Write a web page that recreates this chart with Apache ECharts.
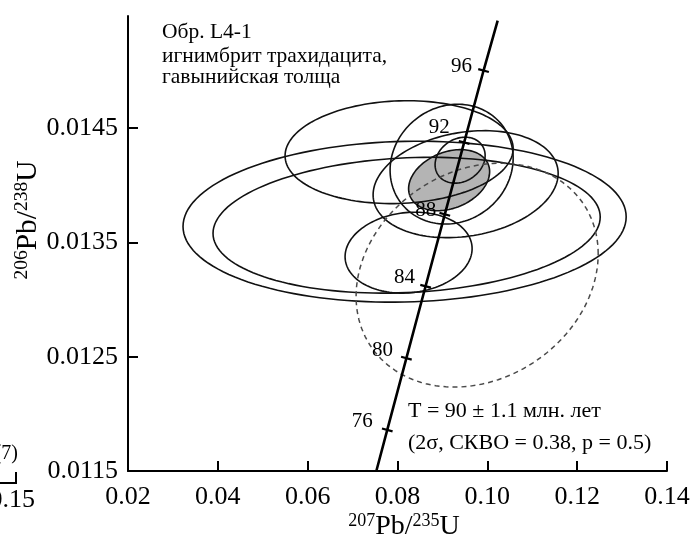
<!DOCTYPE html>
<html>
<head>
<meta charset="utf-8">
<script src="https://cdn.jsdelivr.net/npm/echarts@6/dist/echarts.min.js"></script>
<style>
  html, body { margin: 0; padding: 0; background: #fff; }
  #chart { width: 694px; height: 541px; }
</style>
</head>
<body>
<div id="chart"></div>
<script>
// Axis ticks
const xTicks = [0.02, 0.04, 0.06, 0.08, 0.10, 0.12, 0.14];
const yTicks = [0.0115, 0.0125, 0.0135, 0.0145];

// Concordia: age marks (Ma) and their 207Pb/235U, 206Pb/238U positions
const concordiaAge = [76, 80, 84, 88, 92, 96];
const concordiaX = [0.07772, 0.08198, 0.08625, 0.09053, 0.09484, 0.09916];
const concordiaY = [0.011859, 0.012487, 0.013116, 0.013745, 0.014374, 0.015003];
// Concordia trace from the bottom of the plot to its top end
const traceX = [0.07529, 0.07772, 0.08198, 0.08625, 0.09053, 0.09484, 0.09916, 0.10230];
const traceY = [0.01150, 0.011859, 0.012487, 0.013116, 0.013745, 0.014374, 0.015003, 0.01544];

// Error ellipses: centre, half-widths and error correlation
const ellipseCx  = [0.09149, 0.09394, 0.08036, 0.08158, 0.08203, 0.09205, 0.09517, 0.08247, 0.09773];
const ellipseCy  = [0.014044, 0.014219, 0.014289, 0.013681, 0.013650, 0.014184, 0.014009, 0.013410, 0.013213];
const ellipseRx  = [0.00902, 0.00557, 0.02539, 0.04933, 0.04310, 0.01370, 0.02060, 0.01414, 0.02695];
const ellipseRy  = [0.000267, 0.000201, 0.000450, 0.000704, 0.000594, 0.000524, 0.000468, 0.000354, 0.000979];
const ellipseRho = [0.28, 0.20, 0.07, 0.06, 0.12, 0.10, 0.20, 0.10, 0.19];
// 0 = weighted mean (filled), 1 = analysis, 2 = excluded analysis (dashed)
const ellipseKind = [0, 1, 1, 1, 1, 1, 1, 1, 2];

const serif = "'Liberation Serif', 'DejaVu Serif', 'Times New Roman', serif";

// per-label nudges for the age numbers next to the concordia marks
const ageLabelNudge = [[-25, -8], [-24, -8], [-21, -9], [-19, -4], [-25, -15], [-22, -4]];

function ellipseRender(params, api) {
  const i = params.dataIndex;
  const cx = ellipseCx[i], cy = ellipseCy[i];
  const rx = ellipseRx[i], ry = ellipseRy[i], rho = ellipseRho[i];
  const q = Math.sqrt(1 - rho * rho);
  const pts = [];
  const n = 144;
  for (let k = 0; k <= n; k++) {
    const t = (k / n) * Math.PI * 2;
    pts.push(api.coord([cx + rx * Math.cos(t), cy + ry * (rho * Math.cos(t) + q * Math.sin(t))]));
  }
  const kind = ellipseKind[i];
  let style;
  if (kind === 0) {
    style = { fill: '#b4b4b4', stroke: '#111', lineWidth: 1.6 };
  } else if (kind === 2) {
    style = { fill: null, stroke: '#4a4a4a', lineWidth: 1.5, lineDash: [5, 4] };
  } else {
    style = { fill: null, stroke: '#111', lineWidth: 1.6 };
  }
  return { type: 'polygon', shape: { points: pts }, style: style, z2: kind === 0 ? 0 : 5 };
}

const chart = echarts.init(document.getElementById('chart'), null, { renderer: 'canvas' });

const xTitleRich = {
  s: { fontFamily: serif, fontSize: 18, fill: '#000', verticalAlign: 'top', lineHeight: 30 },
  m: { fontFamily: serif, fontSize: 28, fill: '#000', lineHeight: 30 }
};
const yTitleRich = {
  s: { fontFamily: serif, fontSize: 19.5, fill: '#000', verticalAlign: 'top', lineHeight: 32 },
  m: { fontFamily: serif, fontSize: 29.5, fill: '#000', lineHeight: 32 }
};

const option = {
  animation: false,
  backgroundColor: '#fff',
  grid: { left: 128, right: 27, top: 16, bottom: 70, containLabel: false },
  xAxis: {
    type: 'value',
    min: 0.02, max: 0.14, interval: 0.02,
    axisLine: { lineStyle: { color: '#000', width: 2 } },
    axisTick: { inside: true, length: 10, lineStyle: { color: '#000', width: 2 } },
    axisLabel: {
      color: '#000', fontFamily: serif, fontSize: 26, margin: 13,
      formatter: v => v.toFixed(2)
    },
    splitLine: { show: false }
  },
  yAxis: {
    type: 'value',
    min: 0.0115, max: 0.01548,
    axisLine: { lineStyle: { color: '#000', width: 2 } },
    axisTick: { inside: true, length: 10, customValues: yTicks, lineStyle: { color: '#000', width: 2 } },
    axisLabel: {
      color: '#000', fontFamily: serif, fontSize: 26, margin: 10,
      customValues: yTicks,
      formatter: v => v.toFixed(4)
    },
    splitLine: { show: false }
  },
  series: [
    {
      type: 'custom',
      renderItem: ellipseRender,
      data: ellipseCx.map((x, i) => [x, ellipseCy[i]]),
      silent: true,
      z: 2
    },
    {
      type: 'line',
      data: traceX.map((x, i) => [x, traceY[i]]),
      showSymbol: false,
      lineStyle: { color: '#000', width: 2.6 },
      silent: true,
      z: 4
    },
    {
      type: 'scatter',
      data: concordiaX.map((x, i) => ({
        value: [x, concordiaY[i]],
        label: { offset: ageLabelNudge[i] }
      })),
      symbol: 'rect',
      symbolSize: [11, 2.2],
      symbolRotate: -15,
      itemStyle: { color: '#000', opacity: 1 },
      label: {
        show: true,
        position: 'inside',
        fontFamily: serif,
        fontSize: 21,
        color: '#000',
        opacity: 1,
        formatter: p => String(concordiaAge[p.dataIndex])
      },
      silent: true,
      z: 5
    }
  ],
  graphic: [
    {
      type: 'text', x: 162, y: 32.5,
      style: { text: 'Обр. L4-1', font: '21.5px ' + serif, fill: '#000', verticalAlign: 'middle' }
    },
    {
      type: 'text', x: 162, y: 56,
      style: { text: 'игнимбрит трахидацита,', font: '21.5px ' + serif, fill: '#000', verticalAlign: 'middle' }
    },
    {
      type: 'text', x: 162, y: 77.5,
      style: { text: 'гавынийская толща', font: '21.5px ' + serif, fill: '#000', verticalAlign: 'middle' }
    },
    {
      type: 'text', x: 408, y: 411.5,
      style: { text: 'T = 90 ± 1.1 млн. лет', font: '22px ' + serif, fill: '#000', verticalAlign: 'middle' }
    },
    {
      type: 'text', x: 408, y: 443,
      style: { text: '(2σ, СКВО = 0.38, p = 0.5)', font: '22px ' + serif, fill: '#000', verticalAlign: 'middle' }
    },
    {
      type: 'text', x: 404, y: 527,
      style: { text: '{s|207}{m|Pb/}{s|235}{m|U}', align: 'center', verticalAlign: 'middle', rich: xTitleRich }
    },
    {
      type: 'text', x: 28, y: 220, rotation: Math.PI / 2,
      style: { text: '{s|206}{m|Pb/}{s|238}{m|U}', align: 'center', verticalAlign: 'middle', rich: yTitleRich }
    },
    // edge of the neighbouring panel
    {
      type: 'text', x: 18, y: 454,
      style: { text: '(7)', font: '20px ' + serif, fill: '#000', align: 'right', verticalAlign: 'middle' }
    },
    {
      type: 'text', x: 35, y: 500,
      style: { text: '0.15', font: '26px ' + serif, fill: '#000', align: 'right', verticalAlign: 'middle' }
    },
    {
      type: 'polyline',
      shape: { points: [[0, 483], [16, 483], [16, 472]] },
      style: { stroke: '#000', lineWidth: 2, fill: null }
    }
  ]
};

chart.setOption(option);
</script>
</body>
</html>
